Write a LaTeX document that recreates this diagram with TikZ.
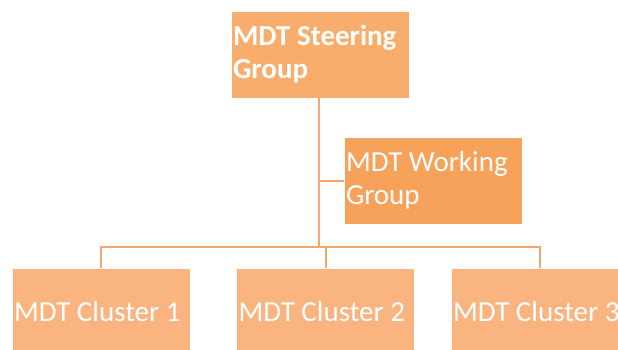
\documentclass[tikz,border=0pt]{standalone}
\usepackage{fontspec}
\setmainfont{Carlito}
\definecolor{steerfill}{HTML}{F8AD6D}
\definecolor{workfill}{HTML}{F6A25A}
\definecolor{clusterfill}{HTML}{F9B47F}
\definecolor{connline}{HTML}{F6A66C}
\tikzset{
  orgbox/.style={rectangle, draw=white, line width=0.8pt, text=white,
    minimum width=178pt, minimum height=87pt, text width=174pt,
    inner xsep=2pt, inner ysep=0pt, align=flush left,
    font=\fontsize{29}{33}\selectfont},
  conn/.style={draw=connline, line width=2pt}
}
\begin{document}
\begin{tikzpicture}[x=1pt,y=-1pt]
\useasboundingbox (0,0) rectangle (618,349);
\node[orgbox, fill=steerfill, font=\fontsize{29}{33}\selectfont\bfseries] (steer) at (320,54.5) {MDT Steering Group};
\node[orgbox, fill=workfill] (work) at (433,180.5) {MDT Working Group};
\node[orgbox, fill=clusterfill] (c1) at (101,311.5) {MDT Cluster 1};
\node[orgbox, fill=clusterfill] (c2) at (325.5,311.5) {MDT Cluster 2};
\node[orgbox, fill=clusterfill] (c3) at (540,311.5) {MDT Cluster 3};
\coordinate (j) at (319,247);
\draw[conn] (steer.south -| j) -- (j);
\draw[conn] (work.west) -- (work.west -| j);
\draw[conn] (c1.north) -- (c1.north |- j) -- (c3.north |- j) -- (c3.north);
\draw[conn] (c2.north) -- (c2.north |- j);
\end{tikzpicture}
\end{document}
